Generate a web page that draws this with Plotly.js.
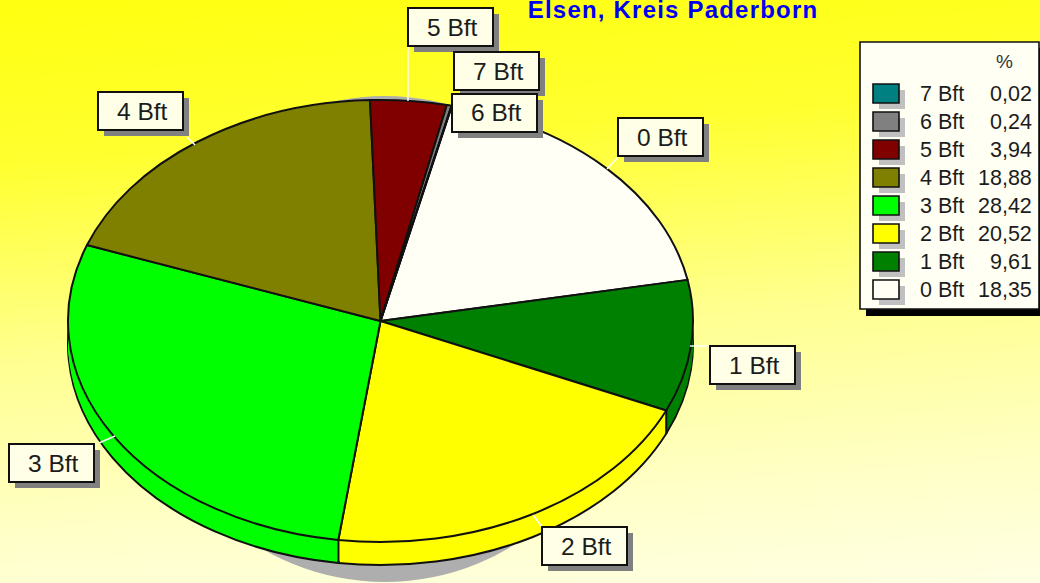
<!DOCTYPE html>
<html>
<head>
<meta charset="utf-8">
<script src="https://cdn.plot.ly/plotly-3.0.1.min.js"></script>
<style>
html,body{margin:0;padding:0;width:1040px;height:583px;overflow:hidden;background:linear-gradient(176deg,#ffff10 0%,#ffff30 25%,#ffff90 55%,#ffffc8 82%,#ffffe4 100%);}
#chart{width:1040px;height:583px;}
</style>
</head>
<body>
<div id="chart"></div>
<script>
const categories = ['0 Bft','1 Bft','2 Bft','3 Bft','4 Bft','5 Bft','6 Bft','7 Bft'];
const percents   = [18.35, 9.61, 20.52, 28.42, 18.88, 3.94, 0.24, 0.02];
const sliceColors = ['#FFFFF6','#008000','#FFFF00','#00FF00','#808000','#800000','#808080','#008080'];
const chartTitle = 'Elsen, Kreis Paderborn';
const legendHeader = '%';

// ---- geometry of the tilted pie (screen pixels) ----
const W = 1040, H = 583;
const CX = 380.5, CY = 321, RX = 312.5, RY = 221, DEPTH = 23, ROT = 13.2;
const FONT = '"Liberation Sans", Arial, sans-serif';
const px = x => x / W, py = y => 1 - y / H;
const rect = (x0,y0,x1,y1,fill,line,lw) => ({type:'rect',xref:'paper',yref:'paper',x0:px(x0),x1:px(x1),y0:py(y0),y1:py(y1),
  fillcolor:fill,line:{color:line||fill,width:line?(lw||2):0},layer:'above'});
const seg = (x0,y0,x1,y1,c,w) => ({type:'line',xref:'paper',yref:'paper',x0:px(x0),x1:px(x1),y0:py(y0),y1:py(y1),
  line:{color:c,width:w},layer:'above'});
const txt = (x,y,t,size,anchor,color) => ({xref:'paper',yref:'paper',x:px(x),y:py(y),text:t,showarrow:false,
  xanchor:anchor||'center',yanchor:'middle',font:{family:FONT,size:size,color:color||'#1c1c1c'},borderpad:0});

// ---- pie traces: side wall (stacked copies moving up) and top face ----
const offsets = [];
for (let d = DEPTH; d > 0; d -= 2) offsets.push(d);
offsets.push(0);
const traces = offsets.map((d,i) => ({
  type:'pie', labels:categories, values:percents, sort:false, direction:'clockwise', rotation:ROT,
  textinfo:'none', hoverinfo:'skip', showlegend:false,
  domain:{x:[0,1],y:[0,1]},
  marker:{colors:sliceColors,line:{color:'#101010',width:(d===0||d===DEPTH)?2:0}}
}));

// ---- label boxes ----
const labelBoxes = {
  '5 Bft':[408,8],'7 Bft':[454,52],'6 Bft':[452,94],'0 Bft':[618,118],
  '4 Bft':[98,92],'3 Bft':[9,444],'2 Bft':[542,527],'1 Bft':[710,346]
};
const boxOrder = ['5 Bft','7 Bft','6 Bft','0 Bft','4 Bft','3 Bft','2 Bft','1 Bft'];
const boxW = 85, boxH = 38, boxShadow = 6;
const shapes = [], annotations = [];

// pie's drop shadow, behind everything
shapes.push({type:'circle',xref:'paper',yref:'paper',x0:px(385-243),x1:px(385+243),y0:py(339-243),y1:py(339+243),
  fillcolor:'#aeaeae',line:{width:0},layer:'below'});

// vertical wall edges, from the cumulative values
let cum = 0;
percents.forEach(p => {
  cum += p;
  const a = (ROT + cum*3.6) * Math.PI/180;
  const x = CX + RX*Math.sin(a), y = CY - RY*Math.cos(a);
  if (cum < 100 && y > CY) shapes.push(seg(x,y,x,y+DEPTH,'#101010',2));
});

// leaders
[[408,46,408,101],[618,157,607,169],[187,137,195,145],[99,443,115,436],[533,515,542,527],[690,346,710,346]]
  .forEach(l => shapes.push(seg(l[0],l[1],l[2],l[3],'#ffffff',1.4)));

boxOrder.forEach(c => {
  const [x,y] = labelBoxes[c];
  shapes.push(rect(x+boxShadow,y+boxShadow,x+boxW+boxShadow,y+boxH+boxShadow,'#808080'));
  shapes.push(rect(x,y,x+boxW,y+boxH,'#FFFFE8','#101010',2));
  annotations.push(txt(x+boxW/2+2,y+boxH/2,c,24.5));
});

// ---- legend table ----
shapes.push(rect(866,48,1046,316,'#000000'));
shapes.push(rect(860,42,1039,309,'#FFFFF4','#101010',1.6));
annotations.push(txt(1004,62,legendHeader,19,'center','#333333'));
const rowTop = 84, rowStep = 28;
for (let i = categories.length-1, r = 0; i >= 0; i--, r++) {
  const y = rowTop + r*rowStep;
  shapes.push(rect(879,y+6,905,y+25,'#c0c0c0'));
  shapes.push(rect(873,y,899,y+19,sliceColors[i],'#101010',1.6));
  annotations.push(txt(919,y+10,categories[i],21.5,'left'));
  annotations.push(txt(1033,y+10,percents[i].toFixed(2).replace('.',','),21.5,'right'));
}

// ---- title ----
const titleIndex = annotations.length;
annotations.push(txt(672.5,10,'<b>'+chartTitle+'</b>',24,'center','#0000F0'));

const layout = {
  width:W, height:H, margin:{l:0,r:0,t:0,b:0,pad:0},
  paper_bgcolor:'rgba(0,0,0,0)', plot_bgcolor:'rgba(0,0,0,0)',
  showlegend:false, shapes:shapes, annotations:annotations
};

Plotly.newPlot('chart', traces, layout, {staticPlot:true, displayModeBar:false, responsive:false}).then(gd => {
  // a Plotly pie is always round: tilt each drawn pie into the ellipse of the reference
  const base = H/2, cx0 = W/2, cy0 = H/2;
  gd.querySelectorAll('.pielayer .trace').forEach((g,i) => {
    g.setAttribute('transform', `translate(${CX},${CY + offsets[i]}) scale(${RX/base},${RY/base}) translate(${-cx0},${-cy0})`);
    g.querySelectorAll('path').forEach(p => { p.style.vectorEffect = 'non-scaling-stroke'; });
  });
  // the reference's title is set a little wider than the font's own spacing
  const t = gd.querySelectorAll('.annotation-text')[titleIndex];
  if (t) {
    t.style.letterSpacing = '1.2px';
  }
});
</script>
</body>
</html>
